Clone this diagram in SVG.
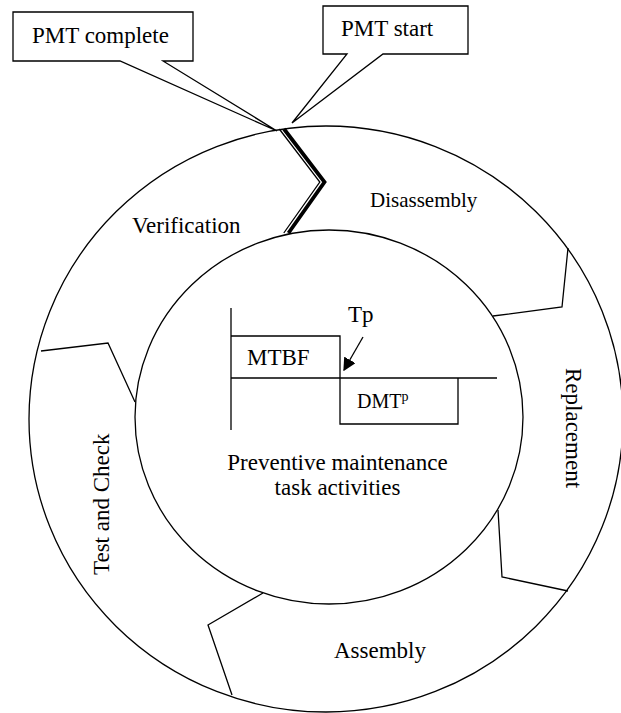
<svg xmlns="http://www.w3.org/2000/svg" width="621" height="713" viewBox="0 0 621 713">
  <defs>
    <marker id="tri" viewBox="0 0 10 10" refX="9" refY="5" markerWidth="13" markerHeight="13" markerUnits="userSpaceOnUse" orient="auto">
      <path d="M0,0 L10,5 L0,10 z" fill="#000"/>
    </marker>
  </defs>
  <style>
    .ln { fill: none; stroke: #000; stroke-width: 1.3; }
    .box { fill: #fff; stroke: #000; stroke-width: 1.3; }
    .t { font-family: "Liberation Serif", "Times New Roman", serif; font-size: 23px; fill: #000; }
  </style>
  <rect width="621" height="713" fill="#fff"/>

  <g id="rings">
    <ellipse cx="326" cy="419" rx="297" ry="293" class="ln"/>
    <ellipse cx="329" cy="417" rx="194" ry="187" class="ln"/>
  </g>

  <g id="connectors">
    <!-- start/complete double divider -->
    <polyline points="284,129 324.5,182 288.5,233" fill="none" stroke="#000" stroke-width="3.8" stroke-linejoin="miter"/>
    <polyline points="279.3,129 319.8,182 283.8,233" fill="none" stroke="#000" stroke-width="1.3" stroke-linejoin="miter"/>
    <!-- phase dividers -->
    <polyline points="568,248 562,307 493,316" class="ln"/>
    <polyline points="498,510 502,577 568,591" class="ln"/>
    <polyline points="263,593 208,625 232,695" class="ln"/>
    <polyline points="41,351 108,343 135,402" class="ln"/>
  </g>

  <g id="pmt-complete">
    <path d="M13,12 H193 V61 H163 L277,131 L120,61 H13 Z" class="box"/>
    <text x="32" y="43" class="t">PMT complete</text>
  </g>

  <g id="pmt-start">
    <path d="M323,6 H468 V54 H383 L292,123 L347,54 H323 Z" class="box"/>
    <text x="341" y="36" class="t">PMT start</text>
  </g>

  <g id="verification"><text x="132" y="233" class="t">Verification</text></g>
  <g id="disassembly"><text x="370" y="207" class="t" style="font-size:21px">Disassembly</text></g>
  <g id="replacement"><text transform="translate(566,368) rotate(90)" class="t">Replacement</text></g>
  <g id="assembly"><text x="334" y="658" class="t">Assembly</text></g>
  <g id="test-check"><text transform="translate(109,575) rotate(-90)" class="t">Test and Check</text></g>

  <g id="pm-chart">
    <line x1="231" y1="308" x2="231" y2="430" class="ln"/>
    <line x1="231" y1="378" x2="497" y2="378" class="ln"/>
    <polyline points="231,336 340,336 340,378" class="ln"/>
    <polyline points="340,378 340,424 458,424 458,378" class="ln"/>
    <text x="247" y="365" class="t">MTBF</text>
    <text x="357" y="408" class="t" style="font-size:20px">DMT<tspan dy="-7" style="font-size:14px">p</tspan></text>
    <text x="348" y="322" class="t">Tp</text>
    <line x1="363" y1="337" x2="344" y2="370" class="ln" marker-end="url(#tri)"/>
  </g>

  <g id="center-label">
    <text x="337.5" y="470" class="t" text-anchor="middle">Preventive maintenance</text>
    <text x="337.5" y="495" class="t" text-anchor="middle">task activities</text>
  </g>
</svg>
